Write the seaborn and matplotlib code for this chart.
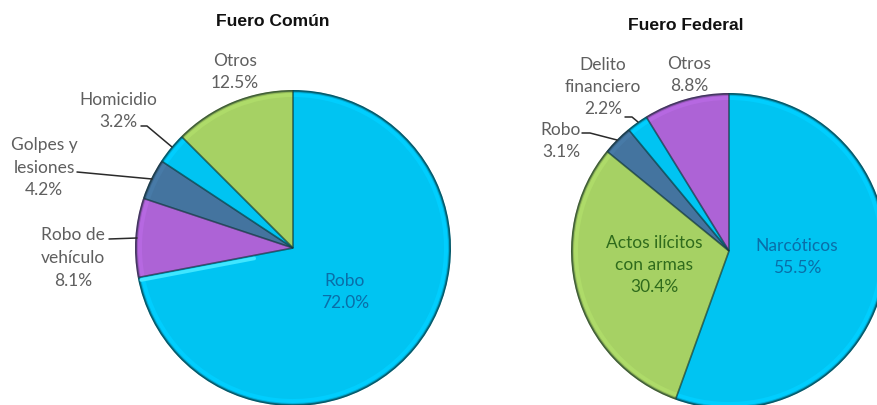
import matplotlib
matplotlib.use('Agg')
import matplotlib.pyplot as plt
from matplotlib.lines import Line2D
import numpy as np
import seaborn as sns

comun_labels = ['Robo', 'Robo de vehículo', 'Golpes y lesiones', 'Homicidio', 'Otros']
comun_values = [72.0, 8.1, 4.2, 3.2, 12.5]
federal_labels = ['Narcóticos', 'Actos ilícitos con armas', 'Robo', 'Delito financiero', 'Otros']
federal_values = [55.5, 30.4, 3.1, 2.2, 8.8]

CYAN = '#00C4F2'
PURPLE = '#AD63D6'
BLUE = '#44749F'
GREEN = '#A6D164'
comun_colors = [CYAN, PURPLE, BLUE, CYAN, GREEN]
federal_colors = [CYAN, GREEN, BLUE, CYAN, PURPLE]

W, H = 877, 405

sns.set_theme(style='white')
plt.rcParams['font.family'] = ['Lato', 'DejaVu Sans']

fig = plt.figure(figsize=(W / 100, H / 100), dpi=100, facecolor='white')


def shade(color, factor):
    r, g, b = matplotlib.colors.to_rgb(color)
    return (min(r * factor, 1), min(g * factor, 1), min(b * factor, 1))


def draw_pie(cx, cy, radius, values, colors, glow_first=False):
    # axes in pixels, y measured from the top like the picture
    ax = fig.add_axes([(cx - radius - 2) / W, 1 - (cy + radius + 2) / H,
                       (2 * radius + 4) / W, (2 * radius + 4) / H])
    # rings going from dark to light at the rim, to fake the 3D look
    for inset, factor in [(0, 0.55), (1, 0.74), (2, 0.9)]:
        ax.pie(values, colors=[shade(c, factor) for c in colors], radius=radius - inset,
               startangle=90, counterclock=False, frame=True, wedgeprops={'linewidth': 0})
    ax.pie(values, colors=[shade(c, 1.05) for c in colors], radius=radius - 3,
           startangle=90, counterclock=False, frame=True, wedgeprops={'linewidth': 0})
    wedges, _ = ax.pie(values, colors=colors, radius=radius - 7, startangle=90, counterclock=False,
                       frame=True, wedgeprops={'linewidth': 0})
    # dark seams between slices, over the whole radius
    ax.pie(values, colors=['none'] * len(values), radius=radius - 1, startangle=90,
           counterclock=False, frame=True,
           wedgeprops={'linewidth': 1.2, 'edgecolor': (0.05, 0.2, 0.2, 0.4), 'fill': False})
    if glow_first:
        # bright strip along the end edge of the first slice
        angle = np.radians(wedges[0].theta1)
        ux, uy = np.cos(angle), np.sin(angle)
        nx, ny = -uy, ux
        ax.plot([40 * ux + 3 * nx, (radius - 3) * ux + 3 * nx],
                [40 * uy + 3 * ny, (radius - 3) * uy + 3 * ny],
                color='#3FE6FF', lw=2.6, solid_capstyle='round')
    ax.set_xlim(-radius - 2, radius + 2)
    ax.set_ylim(-radius - 2, radius + 2)
    ax.set_axis_off()


def put_text(x, y, s, color='#5f5f5f', size=12.5, **kw):
    fig.text(x / W, 1 - y / H, s, color=color, fontsize=size, ha='center', va='center',
             linespacing=1.5, **kw)


def leader(xs, ys):
    fig.add_artist(Line2D([x / W for x in xs], [1 - y / H for y in ys], color='#2a2a2a', lw=1.1))


draw_pie(293, 248, 158, comun_values, comun_colors, glow_first=True)
draw_pie(729, 251, 158, federal_values, federal_colors)

put_text(273, 21, 'Fuero Común', color='#111111', size=12.6, family='Liberation Sans', fontweight='bold')
put_text(686, 26, 'Fuero Federal', color='#111111', size=12.6, family='Liberation Sans', fontweight='bold')

# left pie labels
put_text(235, 72, f'Otros\n{comun_values[4]}%')
put_text(118, 111, f'Homicidio\n{comun_values[3]}%')
put_text(44, 168, f'Golpes y\nlesiones\n{comun_values[2]}%')
put_text(73, 258, f'Robo de\nvehículo\n{comun_values[1]}%')
put_text(345, 292, f'Robo\n{comun_values[0]}%', color='#0a6ea8')

# right pie labels
put_text(689, 75, f'Otros\n{federal_values[4]}%')
put_text(603, 87, f'Delito\nfinanciero\n{federal_values[3]}%')
put_text(561, 141, f'Robo\n{federal_values[2]}%')
put_text(654, 265, f'Actos ilícitos\ncon armas\n{federal_values[1]}%', color='#2f6b1c')
put_text(797, 257, f'Narcóticos\n{federal_values[0]}%', color='#0a6ea8')

# leader lines
leader([141, 147, 172], [126, 126, 147])
leader([77, 152], [172, 179])
leader([109, 137], [239, 238])
leader([582, 590, 617], [133, 133, 140])
leader([625, 632, 638], [117, 117, 122])

fig.savefig('out.png', dpi=100, facecolor='white')
